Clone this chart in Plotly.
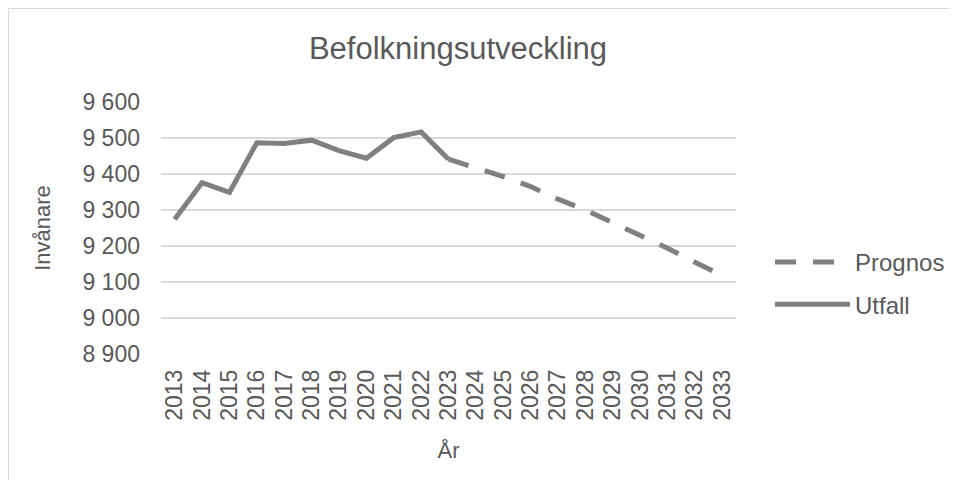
import plotly.graph_objects as go

years = [str(y) for y in range(2013, 2034)]
utfall_years = [str(y) for y in range(2013, 2024)]
utfall = [9274, 9376, 9349, 9487, 9485, 9494, 9465, 9444, 9501, 9517, 9441]
prognos_years = [str(y) for y in range(2023, 2034)]
prognos = [9441, 9418, 9393, 9365, 9330, 9300, 9265, 9230, 9194, 9155, 9118]

title_text = "Befolkningsutveckling"
y_title = "Invånare"
x_title = "År"
y_ticks = [8900, 9000, 9100, 9200, 9300, 9400, 9500, 9600]

LINE = "#808080"
TXT = "#595959"
GRID = "#d9d9d9"
FONT = "Liberation Sans, Arial, sans-serif"

# page body has an 8px margin on every side; figure sized to fit the window
W, H = 941, 472
L, R, T, B = 153, 213, 94, 126
PW = W - L - R
PH = H - T - B

fig = go.Figure()
fig.add_trace(go.Scatter(
    x=prognos_years, y=prognos, name="Prognos", mode="lines",
    line=dict(color=LINE, width=5, dash="21px,17px"),
    legendgroup="a",
))
fig.add_trace(go.Scatter(
    x=utfall_years, y=utfall, name="Utfall", mode="lines",
    line=dict(color=LINE, width=5),
    legendgroup="b",
))

fig.update_layout(
    width=W, height=H,
    margin=dict(l=L, r=R, t=T, b=B, autoexpand=False),
    paper_bgcolor="white", plot_bgcolor="white",
    separators=", ",
    font=dict(family=FONT, color=TXT, size=23),
    title=dict(text=title_text, x=450/W, xanchor="center", xref="container",
               y=1-40/H, yanchor="middle", yref="container",
               font=dict(size=31, color=TXT, family=FONT)),
    xaxis=dict(
        type="category", categoryorder="array", categoryarray=years,
        tickvals=years, ticktext=years,
        tickangle=-90, tickfont=dict(size=23, color=TXT),
        showgrid=False, zeroline=False, showline=False, ticks="",
        ticklabelstandoff=10,
        title=dict(text=x_title, font=dict(size=22, color=TXT), standoff=22),
        range=[-0.5, 20.5], automargin=False,
    ),
    yaxis=dict(
        range=[8900, 9600], tickvals=y_ticks, tickformat=",d",
        tickfont=dict(size=23, color=TXT),
        showgrid=True, gridcolor=GRID, gridwidth=1.5,
        zeroline=False, showline=False, ticks="",
        ticklabelstandoff=20, automargin=False,
        title=dict(text=y_title, font=dict(size=22, color=TXT), standoff=25),
    ),
    legend=dict(
        x=(762-L)/PW, xanchor="left", y=(H-B-232)/PH, yanchor="top",
        font=dict(size=24, color=TXT, family=FONT),
        itemwidth=75, traceorder="grouped", tracegroupgap=8,
        bgcolor="rgba(0,0,0,0)",
    ),
    shapes=[dict(type="rect", xref="paper", yref="paper",
                 x0=(0.5-L)/PW, x1=(W+5-L)/PW,
                 y0=(H-B-(H+5))/PH, y1=(H-B-0.5)/PH,
                 line=dict(color=GRID, width=1), fillcolor="rgba(0,0,0,0)",
                 layer="below")],
)

fig.write_html("out.html")
